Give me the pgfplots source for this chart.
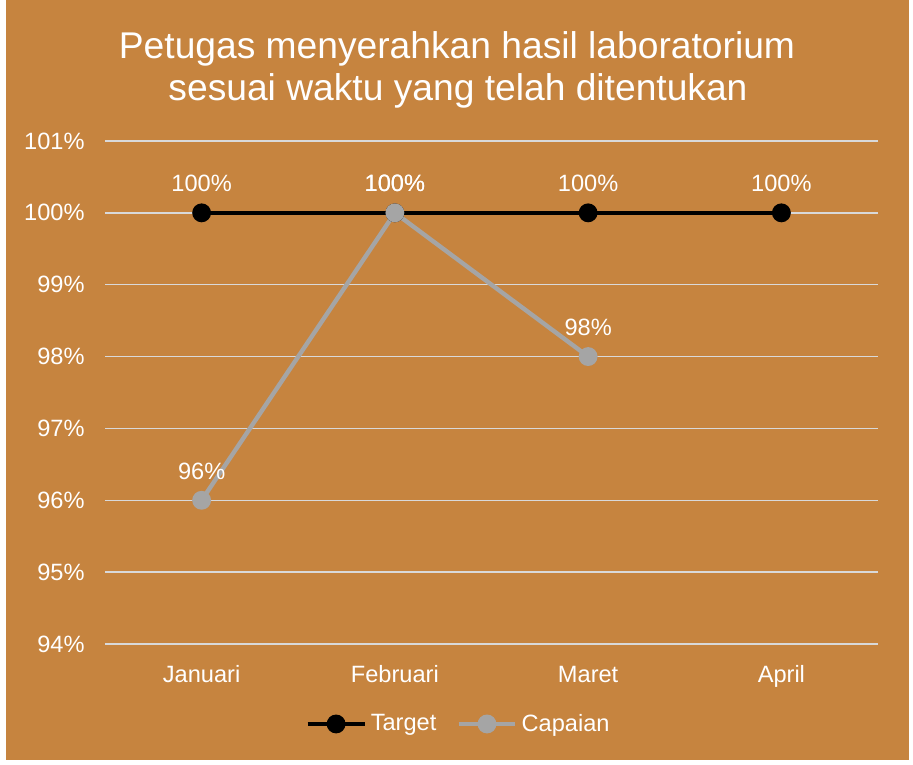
\documentclass[border=0pt]{standalone}
\usepackage{fontspec}
\setmainfont{Liberation Sans}
\usepackage{pgfplots}
\pgfplotsset{compat=1.18}
\definecolor{bg}{HTML}{C6843F}
\definecolor{capc}{HTML}{A5A5A5}
\definecolor{gridc}{HTML}{D9D9D9}

\begin{document}
\begin{tikzpicture}[x=0.5pt,y=0.5pt]
% page and chart area
\fill[white] (0,0) rectangle (913,764);
\fill[bg] (6,4) rectangle (909,764);
\node[white, anchor=base, font=\fontsize{18.6}{21}\selectfont] at (457,705) {Petugas menyerahkan hasil laboratorium};
\node[white, anchor=base, font=\fontsize{18.6}{21}\selectfont] at (458,663) {sesuai waktu yang telah ditentukan};
\begin{axis}[
  at={(52.5pt,60pt)}, anchor=south west,
  width=386.5pt, height=251.5pt, scale only axis,
  xmin=-0.5, xmax=3.5, ymin=94, ymax=101,
  xtick={0,1,2,3},
  xticklabels={Januari,Februari,Maret,April},
  ytick={94,95,...,101},
  yticklabel={\pgfmathprintnumber{\tick}\%},
  /pgf/number format/assume math mode=true,
  axis line style={draw=none},
  tick style={draw=none},
  ymajorgrids=true,
  grid style={gridc, line width=0.75pt},
  ticklabel style={white, font=\fontsize{11.8}{14}\selectfont},
  xticklabel style={anchor=base, inner sep=0pt, yshift=-19.25pt},
  yticklabel style={anchor=east, inner sep=0pt, xshift=-10pt},
  point meta=y,
  nodes near coords={\pgfmathprintnumber[fixed,precision=0]{\pgfplotspointmeta}\%},
  nodes near coords style={white, font=\fontsize{11.8}{14}\selectfont, anchor=center, yshift=14.5pt},
  legend columns=2,
  legend style={at={(0.5,-0.159)}, anchor=center, xshift=-16pt, draw=none, fill=none,
    text=white, font=\fontsize{11.8}{14}\selectfont,
    /tikz/every even column/.append style={column sep=8pt}},
  legend image code/.code={\draw[mark repeat=2,mark phase=2,#1] plot coordinates {(0cm,0cm) (0.5cm,0cm) (1cm,0cm)};},
]
\addplot[black, line width=2.2pt, mark=*, mark size=3.6pt] coordinates {
  (0,100) (1,100) (2,100) (3,100)
};
\addplot[capc, line width=2.2pt, mark=*, mark size=3.6pt] coordinates {
  (0,96) (1,100) (2,98)
};
\legend{Target,Capaian}
\end{axis}
\end{tikzpicture}
\end{document}
